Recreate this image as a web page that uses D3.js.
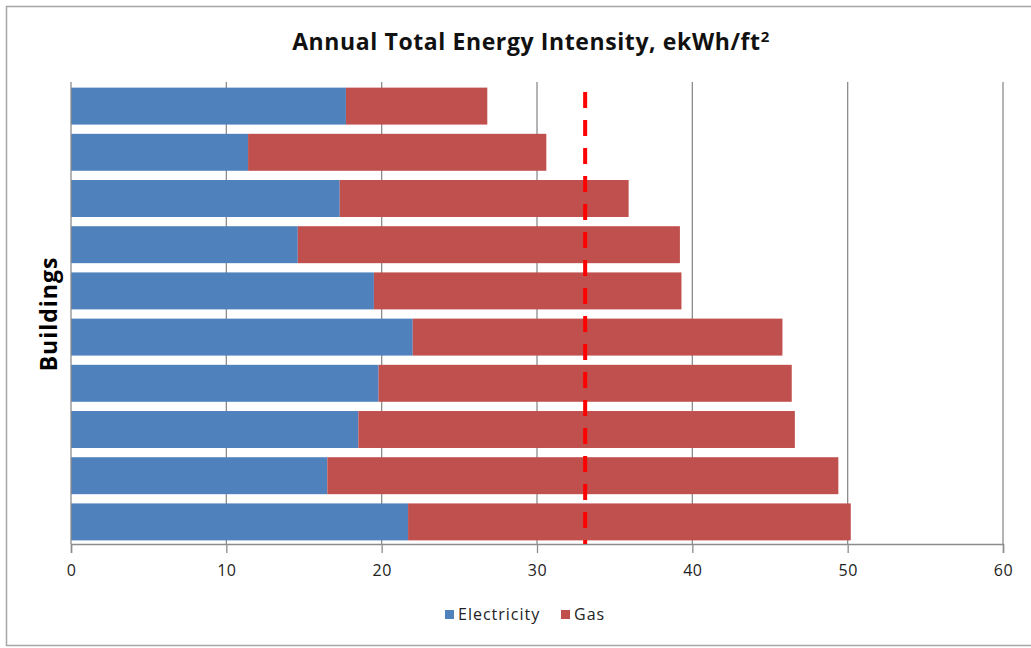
<!DOCTYPE html>
<html>
<head>
<meta charset="utf-8">
<script src="https://cdn.jsdelivr.net/npm/d3@7"></script>
<style>
  body { margin: 0; background: #fff; }
  text { font-family: "Open Sans", sans-serif; }
</style>
</head>
<body>
<div id="chart"></div>
<script>
// one row per building, top to bottom
let buildings = ['B1', 'B2', 'B3', 'B4', 'B5', 'B6', 'B7', 'B8', 'B9', 'B10'];
let electricity = [17.7, 11.4, 17.3, 14.6, 19.5, 22.0, 19.8, 18.5, 16.5, 21.7];
let gas = [9.1, 19.2, 18.6, 24.6, 19.8, 23.8, 26.6, 28.1, 32.9, 28.5];
let xTicks = [0, 10, 20, 30, 40, 50, 60];
let target = 33.1;

let width = 1031;
let height = 648;
let margin = {top: 82, right: 28, bottom: 104, left: 71};

let svg = d3.select('#chart')
    .append('svg')
    .attr('width', width)
    .attr('height', height);

// outer chart border
svg.append('rect')
    .attr('x', 6.5).attr('y', 6.5)
    .attr('width', width + 10).attr('height', 639)
    .attr('fill', 'none')
    .attr('stroke', '#a6a6a6')
    .attr('stroke-width', 1.5);

let xScale = d3.scaleLinear()
    .domain([0, 60])
    .range([margin.left, width - margin.right]);

let yScale = d3.scaleBand()
    .domain(buildings)
    .range([margin.top, height - margin.bottom])
    .paddingInner(0.2)
    .paddingOuter(0.1);

// vertical gridlines
svg.append('g').selectAll('.grid')
    .data(xTicks.slice(1))
    .enter()
    .append('line')
    .classed('grid', true)
    .attr('x1', d => xScale(d)).attr('x2', d => xScale(d))
    .attr('y1', margin.top).attr('y2', height - margin.bottom)
    .attr('stroke', '#8c8c8c')
    .attr('stroke-width', 1.3);

// stacked bars
let rows = buildings.map((b, i) => ({name: b, elec: electricity[i], gas: gas[i]}));

svg.append('g').selectAll('.elec')
    .data(rows).enter().append('rect')
    .classed('elec', true)
    .attr('x', xScale(0))
    .attr('y', d => yScale(d.name) + 1)
    .attr('width', d => xScale(d.elec) - xScale(0))
    .attr('height', yScale.bandwidth())
    .attr('fill', '#4f81bd');

svg.append('g').selectAll('.gas')
    .data(rows).enter().append('rect')
    .classed('gas', true)
    .attr('x', d => xScale(d.elec))
    .attr('y', d => yScale(d.name) + 1)
    .attr('width', d => xScale(d.elec + d.gas) - xScale(d.elec))
    .attr('height', yScale.bandwidth())
    .attr('fill', '#c0504d');

// left axis line
svg.append('line')
    .attr('x1', xScale(0)).attr('x2', xScale(0))
    .attr('y1', margin.top).attr('y2', height - margin.bottom)
    .attr('stroke', '#8c8c8c').attr('stroke-width', 1.3);

// bottom axis
let xAxis = d3.axisBottom(xScale).tickValues(xTicks).tickSize(9).tickPadding(12);
let axisG = svg.append('g')
    .attr('transform', 'translate(0,' + (height - margin.bottom) + ')')
    .call(xAxis);
axisG.select('.domain').attr('stroke', '#8c8c8c').attr('stroke-width', 1.5);
axisG.selectAll('.tick line').attr('stroke', '#8c8c8c').attr('stroke-width', 1.3);
axisG.selectAll('.tick text')
    .attr('fill', '#222')
    .style('font-size', '16px')
    .style('letter-spacing', '0.5px')
    .style('font-family', '"Open Sans", sans-serif');

// target dashed line
svg.append('line')
    .attr('x1', xScale(target)).attr('x2', xScale(target))
    .attr('y1', 92).attr('y2', height - margin.bottom)
    .attr('stroke', '#ff0000')
    .attr('stroke-width', 4)
    .attr('stroke-dasharray', '16,12');

// title
let title = svg.append('text')
    .attr('x', 531).attr('y', 50)
    .attr('text-anchor', 'middle')
    .style('font-size', '23px')
    .style('font-weight', 'bold')
    .style('letter-spacing', '0.6px')
    .attr('fill', '#111');
title.append('tspan').text('Annual Total Energy Intensity, ekWh/ft');
title.append('tspan').attr('dy', -8).style('font-size', '15px').text('2');

// y label
svg.append('text')
    .attr('transform', 'translate(57,' + 314 + ') rotate(-90)')
    .attr('text-anchor', 'middle')
    .style('font-size', '23px')
    .style('font-weight', 'bold')
    .style('letter-spacing', '1px')
    .attr('fill', '#000')
    .text('Buildings');

// legend
let legend = [{label: 'Electricity', color: '#4f81bd', x: 445}, {label: 'Gas', color: '#c0504d', x: 561}];
let lg = svg.append('g').selectAll('g').data(legend).enter().append('g')
    .attr('transform', d => 'translate(' + d.x + ',610)');
lg.append('rect').attr('width', 9).attr('height', 9).attr('y', 0).attr('fill', d => d.color);
lg.append('text').attr('x', 13).attr('y', 10)
    .style('font-size', '16px')
    .style('letter-spacing', '1px')
    .attr('fill', '#222')
    .text(d => d.label);
</script>
</body>
</html>
